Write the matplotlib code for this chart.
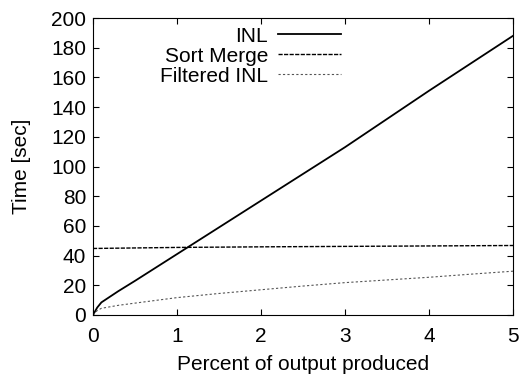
import numpy as np
import matplotlib
matplotlib.use("Agg")
import matplotlib.pyplot as plt

plt.rcParams['font.family'] = ['Liberation Sans', 'DejaVu Sans']

inl_x = [0, 0.05, 0.1, 0.3, 0.5, 0.75, 1.0, 1.5, 2.0, 2.5, 3.0, 3.5, 4.0, 4.5, 5.0]
inl_y = [0, 5, 8.5, 16, 23, 32, 41, 59, 77, 95, 113, 132, 151, 169.5, 188]
sm_x = [0, 1, 2, 3, 4, 5]
sm_y = [44.8, 45.5, 45.9, 46.2, 46.5, 46.8]
finl_x = [0, 0.05, 0.1, 0.3, 0.5, 1.0, 1.5, 2.0, 2.5, 3.0, 3.5, 4.0, 4.5, 5.0]
finl_y = [0, 3, 4.5, 6.5, 8, 11.7, 14.5, 17, 19.5, 21.8, 23.6, 25.4, 27.5, 29.5]

fig = plt.figure(figsize=(5.31, 3.83), dpi=100)
ax = fig.add_axes([93/531, 1 - 315/383, (513-93)/531, (315-18)/383])

ax.plot(inl_x, inl_y, color='black', lw=1.3, label='INL')
ax.plot(sm_x, sm_y, color='black', lw=1.0, ls=(0, (3, 1)), label='Sort Merge')
ax.plot(finl_x, finl_y, color='#555555', lw=0.8, ls=(0, (2, 2)), label='Filtered INL')

ax.set_xlim(0, 5)
ax.set_ylim(0, 200)
ax.set_xticks(range(0, 6))
ax.set_yticks(range(0, 201, 20))
ax.tick_params(direction='in', top=True, right=True, labelsize=15, length=4)
ax.tick_params(axis='x', pad=9)
ax.tick_params(axis='y', pad=5)
ax.set_xlabel('Percent of output produced', fontsize=15, labelpad=6)
ax.set_ylabel('Time [sec]', fontsize=15, labelpad=14)

ax.legend(loc='upper right', bbox_to_anchor=(0.625, 1.02), frameon=False, markerfirst=False,
          fontsize=15, handlelength=3.0, handletextpad=0.5, labelspacing=0.05, borderaxespad=0.3)

fig.savefig('out.png', dpi=100)
